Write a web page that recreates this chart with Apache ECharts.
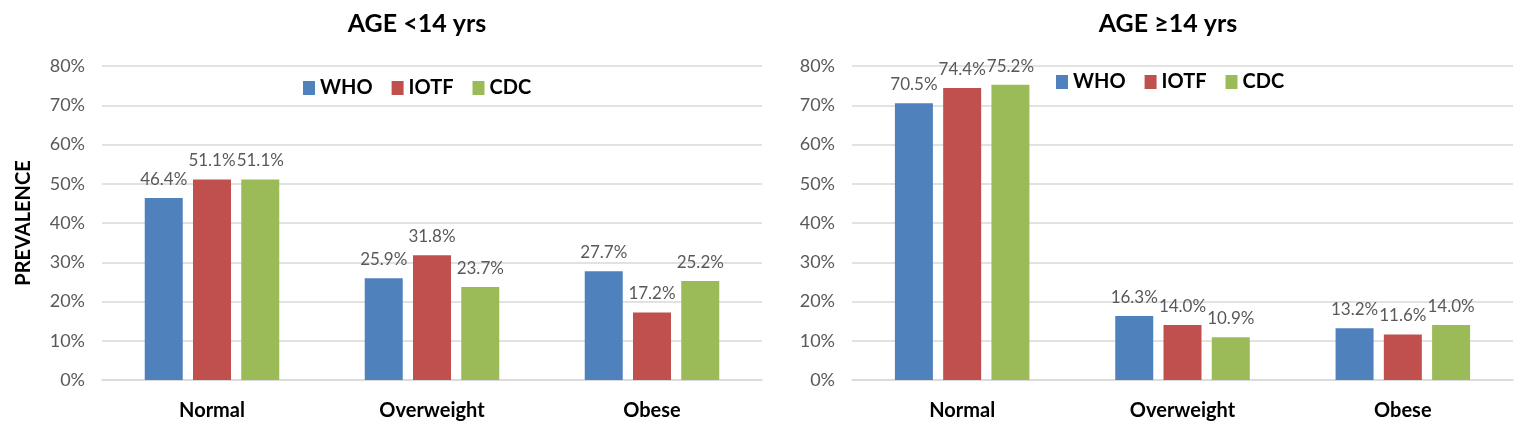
<!DOCTYPE html>
<html><head><meta charset="utf-8">
<script src="https://cdn.jsdelivr.net/npm/echarts@6/dist/echarts.min.js"></script>
<style>html,body{margin:0;padding:0;background:#fff}#c{width:1523px;height:434px}</style>
</head><body><div id="c"></div>
<script>
const categories = ['Normal', 'Overweight', 'Obese'];
const seriesNames = ['WHO', 'IOTF', 'CDC'];
const yTicks = [0, 10, 20, 30, 40, 50, 60, 70, 80];
const titleLeft = 'AGE <14 yrs';
const titleRight = 'AGE ≥14 yrs';
const under14WHO = [46.4, 25.9, 27.7];
const under14IOTF = [51.1, 31.8, 17.2];
const under14CDC = [51.1, 23.7, 25.2];
const over14WHO = [70.5, 16.3, 13.2];
const over14IOTF = [74.4, 14.0, 11.6];
const over14CDC = [75.2, 10.9, 14.0];

const colors = ['#4F81BD', '#C0504D', '#9BBB59'];
const FONT = 'Lato';
const chart = echarts.init(document.getElementById('c'));

function yAxis(gi, name) {
  return {
    type: 'value', gridIndex: gi, min: yTicks[0], max: yTicks[yTicks.length - 1], interval: 10,
    name: name, nameLocation: 'middle', nameGap: 68,
    nameTextStyle: { fontFamily: FONT, fontWeight: 'bold', fontSize: 20, color: '#000', letterSpacing: 1 },
    axisLine: { show: false }, axisTick: { show: false },
    axisLabel: { formatter: v => v + '%', color: '#595959', fontFamily: FONT, fontSize: 18, margin: 17 },
    splitLine: { lineStyle: { color: '#D9D9D9', width: 1.5 } }
  };
}
function xAxis(gi) {
  return {
    type: 'category', gridIndex: gi, data: categories,
    axisLine: { lineStyle: { color: '#D9D9D9', width: 1.5 } }, axisTick: { show: false },
    axisLabel: { color: '#000', fontFamily: FONT, fontWeight: 'bold', fontSize: 20, margin: 21 }
  };
}
function bar(name, data, gi, ci) {
  return {
    name: name, type: 'bar', xAxisIndex: gi, yAxisIndex: gi, data: data,
    barWidth: 38, barGap: '27%',
    itemStyle: { color: colors[ci] },
    label: { show: true, position: 'top', distance: 10, formatter: p => p.value.toFixed(1) + '%',
      color: '#595959', fontFamily: FONT, fontSize: 17 }
  };
}
const legendCommon = {
  data: seriesNames, itemWidth: 12, itemHeight: 14, itemGap: 19,
  textStyle: { fontFamily: FONT, fontWeight: 'bold', fontSize: 20, color: '#000' },
  icon: 'rect'
};
chart.setOption({
  animation: false,
  textStyle: { fontFamily: FONT },
  title: [
    { text: titleLeft, left: 412, top: 6, textAlign: 'center',
      textStyle: { fontFamily: FONT, fontWeight: 'bold', fontSize: 25, color: '#000' } },
    { text: titleRight, left: 1163, top: 6, textAlign: 'center',
      textStyle: { fontFamily: FONT, fontWeight: 'bold', fontSize: 25, color: '#000' } }
  ],
  legend: [
    Object.assign({}, legendCommon, { left: 298, top: 73 }),
    Object.assign({}, legendCommon, { left: 1051, top: 67 })
  ],
  grid: [
    { left: 102, top: 66, width: 660, height: 314 },
    { left: 852, top: 66, width: 661, height: 314 }
  ],
  xAxis: [xAxis(0), xAxis(1)],
  yAxis: [yAxis(0, 'PREVALENCE'), yAxis(1, '')],
  series: [
    bar('WHO', under14WHO, 0, 0), bar('IOTF', under14IOTF, 0, 1), bar('CDC', under14CDC, 0, 2),
    bar('WHO', over14WHO, 1, 0), bar('IOTF', over14IOTF, 1, 1), bar('CDC', over14CDC, 1, 2)
  ]
});
</script></body></html>
